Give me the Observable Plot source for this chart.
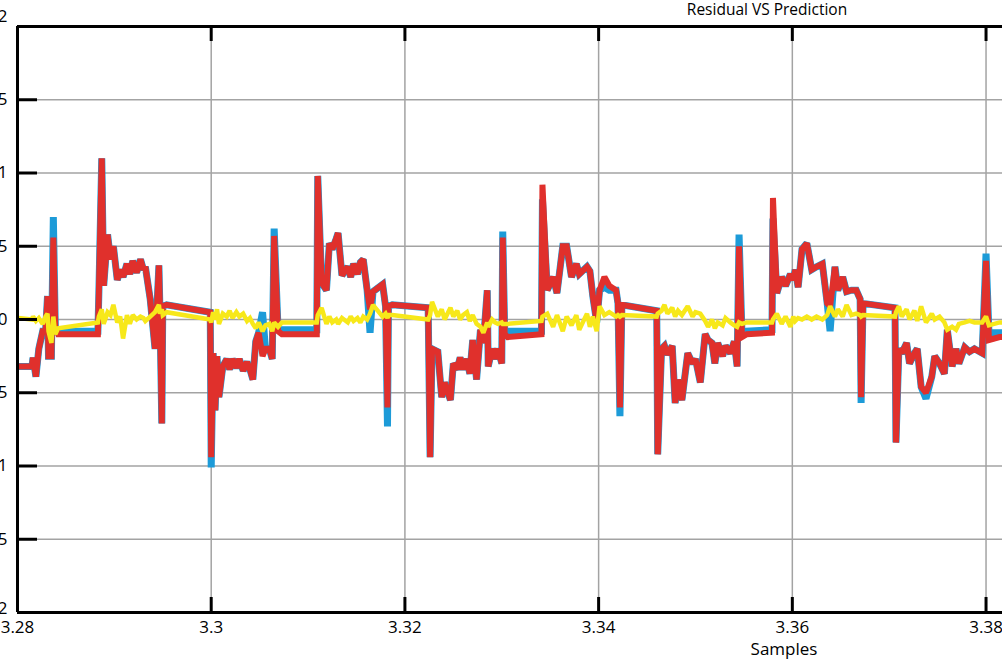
<!DOCTYPE html>
<html><head><meta charset="utf-8">
<script src="https://cdn.jsdelivr.net/npm/d3@7"></script>
<script src="https://cdn.jsdelivr.net/npm/@observablehq/plot@0.6"></script>
<style>
html,body{margin:0;padding:0;background:#fff;overflow:hidden;}
#wrap{position:relative;width:1002px;height:668px;font-family:"Open Sans",sans-serif;color:#000;}
#chart{position:absolute;top:0;left:0;}
#title{position:absolute;top:-1px;left:767px;transform:translateX(-50%);font-size:15.5px;line-height:20px;white-space:nowrap;}
#xlabel{position:absolute;top:638px;left:784px;transform:translateX(-50%);font-size:17px;line-height:22px;white-space:nowrap;}
</style></head>
<body>
<div id="wrap"><div id="chart"></div><div id="title">Residual VS Prediction</div><div id="xlabel">Samples</div></div>
<script>
const xTicks = [3.28, 3.30, 3.32, 3.34, 3.36, 3.38];
const yTicks = [-2, -1.5, -1, -0.5, 0, 0.5, 1, 1.5, 2];
const xDomain = [3.28, 3.3817];
const yDomain = [-2, 2];

const samples = [
3.2801,3.2815,3.2816,3.2819,3.2822,3.2826,3.2829,3.2831,3.2832,3.2835,
3.2837,3.2839,3.2842,3.2883,3.2884,3.2887,3.2889,3.2893,3.2896,3.2899,
3.2903,3.2906,3.2909,3.2913,3.2916,3.2919,3.2923,3.2927,3.2930,3.2932,
3.2937,3.2942,3.2946,3.2947,3.2949,3.2950,3.2954,3.2999,3.3000,3.3002,
3.3004,3.3006,3.3008,3.3012,3.3016,3.3019,3.3022,3.3026,3.3029,3.3033,
3.3037,3.3040,3.3043,3.3046,3.3049,3.3053,3.3056,3.3060,3.3063,3.3065,
3.3069,3.3073,3.3109,3.3110,3.3114,3.3119,3.3122,3.3125,3.3129,3.3131,
3.3135,3.3141,3.3144,3.3147,3.3151,3.3154,3.3157,3.3161,3.3164,3.3167,
3.3177,3.3180,3.3182,3.3183,3.3187,3.3224,3.3226,3.3228,3.3234,3.3238,
3.3241,3.3247,3.3250,3.3254,3.3257,3.3260,3.3264,3.3267,3.3270,3.3274,
3.3278,3.3281,3.3285,3.3286,3.3290,3.3293,3.3296,3.3300,3.3301,3.3303,
3.3306,3.3341,3.3342,3.3347,3.3353,3.3357,3.3363,3.3367,3.3372,3.3377,
3.3380,3.3388,3.3391,3.3394,3.3398,3.3401,3.3406,3.3411,3.3418,3.3420,
3.3422,3.3424,3.3460,3.3461,3.3465,3.3468,3.3471,3.3476,3.3479,3.3482,
3.3486,3.3492,3.3497,3.3500,3.3505,3.3510,3.3513,3.3517,3.3520,3.3523,
3.3528,3.3531,3.3536,3.3540,3.3543,3.3545,3.3548,3.3553,3.3579,3.3580,
3.3584,3.3589,3.3593,3.3598,3.3601,3.3603,3.3606,3.3610,3.3615,3.3620,
3.3625,3.3631,3.3636,3.3639,3.3644,3.3647,3.3652,3.3656,3.3661,3.3666,
3.3670,3.3671,3.3673,3.3706,3.3707,3.3710,3.3713,3.3718,3.3721,3.3726,
3.3729,3.3733,3.3738,3.3744,3.3747,3.3752,3.3757,3.3760,3.3765,3.3769,
3.3772,3.3778,3.3783,3.3788,3.3796,3.3800,3.3803,3.3814,3.3820];

const target = [
-0.32,-0.32,-0.26,-0.39,-0.20,-0.08,-0.08,0.16,-0.25,-0.25,
0.70,-0.05,-0.08,-0.08,0.18,1.10,0.23,0.58,0.41,0.50,
0.27,0.34,0.29,0.38,0.31,0.40,0.32,0.41,0.34,0.36,
0.14,-0.20,0.37,0.08,-0.71,0.09,0.10,0.05,-1.01,-0.23,
-0.62,-0.25,-0.53,-0.32,-0.27,-0.34,-0.27,-0.33,-0.27,-0.35,
-0.29,-0.34,-0.41,-0.15,-0.09,0.05,-0.20,-0.20,-0.27,0.62,
-0.07,-0.07,-0.07,0.98,0.25,0.20,0.52,0.48,0.55,0.59,
0.30,0.36,0.29,0.38,0.31,0.39,0.41,0.20,-0.09,0.19,
0.24,0.09,-0.73,0.09,0.10,0.08,-0.94,-0.20,-0.22,-0.53,
-0.43,-0.55,-0.30,-0.34,-0.26,-0.34,-0.27,-0.37,-0.14,-0.41,
-0.07,-0.16,0.20,-0.32,-0.20,-0.27,-0.20,-0.30,0.60,-0.08,
-0.08,-0.08,0.82,0.20,0.29,0.18,0.50,0.50,0.29,0.38,
0.31,0.36,0.33,0.16,-0.02,0.20,0.22,0.20,0.20,0.11,
-0.66,0.10,0.06,-0.92,-0.20,-0.18,-0.24,-0.18,-0.57,-0.41,
-0.55,-0.23,-0.30,-0.27,-0.43,-0.10,-0.14,-0.16,-0.30,-0.16,
-0.25,-0.18,-0.23,-0.15,-0.32,0.58,-0.10,-0.08,-0.07,0.69,
0.18,0.29,0.23,0.31,0.27,0.34,0.22,0.48,0.52,0.34,
0.36,0.38,0.11,-0.08,0.36,0.20,0.29,0.19,0.20,0.20,
0.14,-0.57,0.11,0.08,-0.84,-0.20,-0.23,-0.16,-0.30,-0.23,
-0.20,-0.46,-0.54,-0.39,-0.25,-0.30,-0.37,-0.07,-0.32,-0.20,
-0.30,-0.19,-0.22,-0.20,-0.23,0.45,-0.09,-0.09,-0.09];

const prediction = [
-0.32,-0.32,-0.26,-0.39,-0.20,-0.08,-0.08,0.16,-0.25,-0.25,
0.56,-0.05,-0.10,-0.10,0.18,1.10,0.23,0.58,0.41,0.50,
0.27,0.34,0.29,0.38,0.31,0.40,0.32,0.41,0.34,0.36,
0.14,-0.20,0.37,0.08,-0.71,0.09,0.10,0.05,-0.94,-0.23,
-0.62,-0.25,-0.53,-0.32,-0.27,-0.34,-0.27,-0.33,-0.27,-0.35,
-0.29,-0.34,-0.41,-0.15,-0.09,-0.25,-0.20,-0.20,-0.27,0.57,
-0.08,-0.10,-0.10,0.98,0.25,0.20,0.52,0.48,0.55,0.59,
0.30,0.36,0.29,0.38,0.31,0.39,0.41,0.20,0.07,0.19,
0.24,0.09,-0.60,0.09,0.10,0.08,-0.94,-0.20,-0.22,-0.53,
-0.43,-0.55,-0.30,-0.34,-0.26,-0.34,-0.27,-0.37,-0.14,-0.41,
-0.07,-0.16,0.20,-0.32,-0.20,-0.27,-0.20,-0.30,0.56,-0.10,
-0.12,-0.10,0.92,0.20,0.29,0.18,0.50,0.50,0.29,0.38,
0.31,0.36,0.33,0.16,-0.02,0.20,0.29,0.23,0.20,0.11,
-0.60,0.10,0.06,-0.92,-0.20,-0.18,-0.24,-0.18,-0.57,-0.41,
-0.55,-0.23,-0.30,-0.27,-0.43,-0.10,-0.14,-0.16,-0.30,-0.16,
-0.25,-0.18,-0.23,-0.15,-0.32,0.50,-0.12,-0.10,-0.09,0.83,
0.18,0.29,0.23,0.31,0.27,0.34,0.22,0.48,0.52,0.34,
0.36,0.38,0.11,0.09,0.36,0.20,0.29,0.19,0.20,0.20,
0.14,-0.53,0.11,0.08,-0.84,-0.20,-0.23,-0.16,-0.30,-0.23,
-0.20,-0.46,-0.50,-0.39,-0.25,-0.30,-0.37,-0.07,-0.32,-0.20,
-0.30,-0.19,-0.22,-0.20,-0.23,0.40,-0.14,-0.12,-0.12];

const residual = [
0.01,0.00,0.02,-0.01,0.01,-0.03,0.02,0.04,-0.08,-0.16,
0.02,-0.10,-0.06,-0.02,0.02,0.07,-0.03,0.05,0.03,0.10,
-0.02,0.02,-0.13,0.03,-0.03,0.03,0.00,0.02,0.01,-0.01,
0.02,0.05,0.10,0.04,0.07,0.03,0.05,0.00,-0.02,0.05,
0.00,0.07,-0.03,0.04,0.02,0.06,0.01,0.05,0.02,0.04,
-0.01,0.01,-0.03,-0.06,-0.02,-0.08,-0.04,-0.03,-0.08,-0.02,
-0.05,-0.02,-0.02,0.03,0.08,-0.03,0.02,-0.02,0.00,-0.03,
0.01,-0.02,0.02,-0.01,0.01,-0.02,0.02,0.00,0.04,0.10,
0.02,0.04,0.01,0.03,0.03,0.00,0.03,0.12,0.02,0.07,
0.00,0.08,0.02,0.06,0.00,0.03,0.05,-0.01,0.03,-0.03,
-0.05,-0.09,-0.02,-0.05,0.00,-0.02,-0.03,-0.02,-0.03,-0.03,
-0.03,-0.01,0.02,0.04,-0.05,0.03,-0.08,0.02,-0.04,0.03,
-0.07,0.04,-0.05,0.02,-0.08,0.09,0.03,0.05,0.02,0.03,
0.02,0.03,0.02,0.04,0.06,0.10,0.04,0.08,0.02,0.06,
0.03,0.09,0.02,0.05,0.04,-0.01,-0.05,0.00,-0.06,-0.02,
-0.04,0.01,-0.02,-0.04,-0.05,-0.02,-0.03,-0.02,-0.02,0.00,
0.04,-0.03,0.02,-0.05,0.02,-0.01,0.01,0.00,0.02,0.00,
0.02,0.00,0.03,0.09,0.02,0.07,0.02,0.10,0.03,0.04,
0.03,0.02,0.03,0.02,0.05,0.09,0.02,0.07,0.00,0.06,
-0.01,0.09,-0.02,0.04,0.00,0.02,-0.02,-0.07,-0.05,-0.07,
-0.03,-0.02,-0.01,-0.02,-0.02,0.02,-0.04,-0.02,-0.02];

const toRows = (vals) => samples.map((x, i) => ({x, y: vals[i]}));
const lineStyle = {x: "x", y: "y", strokeLinejoin: "miter", strokeMiterlimit: 2, strokeLinecap: "butt"};

const W = 1002, H = 668, mT = 26, mB = 56, mL = 17, mR = 0;
const frameH = H - mT - mB, frameW = W - mL - mR;
const fmtY = d => String(d);

const chart = Plot.plot({
  width: W, height: H,
  marginLeft: mL, marginRight: mR, marginTop: mT, marginBottom: mB,
  style: {fontFamily: "'Open Sans', sans-serif", fontSize: "17px", color: "#000", background: "#fff"},
  x: {domain: xDomain, label: null},
  y: {domain: yDomain, label: null},
  marks: [
    Plot.gridX(xTicks, {stroke: "#a3a3a3", strokeOpacity: 1, strokeWidth: 1.5}),
    Plot.gridY(yTicks, {stroke: "#a3a3a3", strokeOpacity: 1, strokeWidth: 1.5}),
    Plot.line(toRows(target), {...lineStyle, stroke: "#1d9bd8", strokeWidth: 7}),
    Plot.line(toRows(prediction), {...lineStyle, stroke: "#e0302c", strokeWidth: 6}),
    Plot.line(toRows(residual), {...lineStyle, stroke: "#f7e81a", strokeWidth: 4.5}),
    Plot.ruleX([xDomain[0]], {stroke: "#000", strokeWidth: 3}),
    Plot.ruleY(yDomain, {stroke: "#000", strokeWidth: 3}),
    Plot.tickY(yTicks, {y: d => d, stroke: "#000", strokeWidth: 3, insetRight: frameW - 20}),
    Plot.tickX(xTicks, {x: d => d, stroke: "#000", strokeWidth: 3, insetTop: frameH - 15}),
    Plot.tickX(xTicks, {x: d => d, stroke: "#000", strokeWidth: 3, insetBottom: frameH - 15}),
    Plot.axisX(xTicks, {tickSize: 0, tickPadding: 8, tickFormat: d => String(+d.toFixed(2)), label: null}),
    Plot.axisY(yTicks.filter(d => Math.abs(d) !== 2), {tickSize: 0, tickPadding: 10, tickFormat: fmtY, label: null}),
    Plot.axisY([yDomain[1]], {tickSize: 0, tickPadding: 10, dy: -10, tickFormat: fmtY, label: null}),
    Plot.axisY([yDomain[0]], {tickSize: 0, tickPadding: 10, dy: -4, tickFormat: fmtY, label: null})
  ]
});
document.getElementById("chart").appendChild(chart);
</script>
</body></html>
